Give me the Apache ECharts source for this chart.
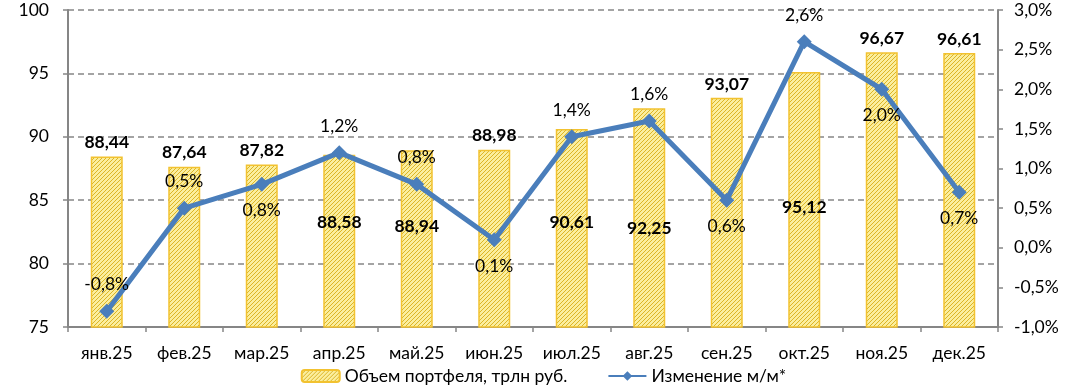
<!DOCTYPE html>
<html>
<head>
<meta charset="utf-8">
<script src="https://cdn.jsdelivr.net/npm/echarts@6/dist/echarts.min.js"></script>
<style>
html,body{margin:0;padding:0;background:#fff;}
#chart{width:1087px;height:388px;}
</style>
</head>
<body>
<div id="chart"></div>
<script>
// ---- data ----
var categories = ['янв.25','фев.25','мар.25','апр.25','май.25','июн.25','июл.25','авг.25','сен.25','окт.25','ноя.25','дек.25'];
var portfolioValues = [88.44, 87.64, 87.82, 88.58, 88.94, 88.98, 90.61, 92.25, 93.07, 95.12, 96.67, 96.61];
var changeValues = [-0.8, 0.5, 0.8, 1.2, 0.8, 0.1, 1.4, 1.6, 0.6, 2.6, 2.0, 0.7];
var seriesNames = ['Объем портфеля, трлн руб.', 'Изменение м/м*'];

// ---- label styling (not data) ----
var barLabelPlace = ['top','top','top',-19,-13,'top',-6,10,'top',8,'top','top'];
var lineLabelPlace = ['top','top','bottom','top','top','bottom','top','top','bottom','top','bottom','bottom'];

var FONT = 'Lato, "Open Sans", sans-serif';
var FS = 17.5;

// hatch pattern
var pc = document.createElement('canvas');
pc.width = 4; pc.height = 4;
var pctx = pc.getContext('2d');
pctx.fillStyle = '#fbee9e';
pctx.fillRect(0,0,4,4);
pctx.fillStyle = '#dcb526';
pctx.fillRect(3,0,1,1); pctx.fillRect(2,1,1,1); pctx.fillRect(1,2,1,1); pctx.fillRect(0,3,1,1);

function fmt(v, d){ return v.toFixed(d).replace('.', ','); }

var barData = portfolioValues.map(function(v, i){
  var p = barLabelPlace[i];
  var lab = (p === 'top') ? {position:'top', distance:5} : {position:'inside', offset:[0,p]};
  return {value: v, label: lab};
});
var lineData = changeValues.map(function(v, i){
  return {value: v, label: {position: lineLabelPlace[i], distance: 10}};
});

var chart = echarts.init(document.getElementById('chart'), null, {renderer:'canvas'});
chart.setOption({
  animation: false,
  textStyle: {fontFamily: FONT},
  grid: {left: 68, right: 89, top: 10, bottom: 61},
  legend: {
    bottom: 3, left: 'center', padding: 0, itemGap: 40, itemWidth: 38, itemHeight: 12,
    textStyle: {fontFamily: FONT, fontSize: FS, color: '#000'},
    data: seriesNames
  },
  xAxis: {
    type: 'category', data: categories, boundaryGap: true,
    axisLine: {onZero: false, lineStyle: {color: '#868686', width: 2}},
    axisTick: {show: true, alignWithLabel: false, length: 5, lineStyle: {color: '#868686', width: 1.5}},
    axisLabel: {fontFamily: FONT, fontSize: FS, color: '#000', margin: 17}
  },
  yAxis: [{
    type: 'value', min: 75, max: 100, interval: 5,
    axisLine: {show: true, lineStyle: {color: '#868686', width: 2}},
    axisTick: {show: true, length: 5, lineStyle: {color: '#868686', width: 1.5}},
    axisLabel: {fontFamily: FONT, fontSize: FS, color: '#000', margin: 19},
    splitLine: {show: true, lineStyle: {color: '#868686', type: [6,4], width: 1.5}}
  },{
    type: 'value', min: -1, max: 3, interval: 0.5, position: 'right',
    axisLine: {show: true, lineStyle: {color: '#868686', width: 2}},
    axisTick: {show: true, length: 5, lineStyle: {color: '#868686', width: 1.5}},
    axisLabel: {fontFamily: FONT, fontSize: FS, color: '#000', margin: 16,
      formatter: function(v){ return fmt(v,1) + '%'; }},
    splitLine: {show: false}
  }],
  series: [{
    name: seriesNames[0], type: 'bar', yAxisIndex: 0, barWidth: 32,
    itemStyle: {color: {image: pc, repeat: 'repeat'}, borderColor: '#f2c230', borderWidth: 1.5},
    label: {show: true, fontFamily: FONT, fontSize: FS, fontWeight: 'bold', color: '#000',
      formatter: function(p){ return fmt(p.value, 2); }},
    data: barData, z: 2
  },{
    name: seriesNames[1], type: 'line', yAxisIndex: 1,
    symbol: 'diamond', symbolSize: 15,
    lineStyle: {color: '#4a7ebb', width: 5},
    itemStyle: {color: '#4a7ebb'},
    label: {show: true, fontFamily: FONT, fontSize: FS, color: '#000',
      formatter: function(p){ return fmt(p.value, 1) + '%'; }},
    data: lineData, z: 3
  }]
});
</script>
</body>
</html>
